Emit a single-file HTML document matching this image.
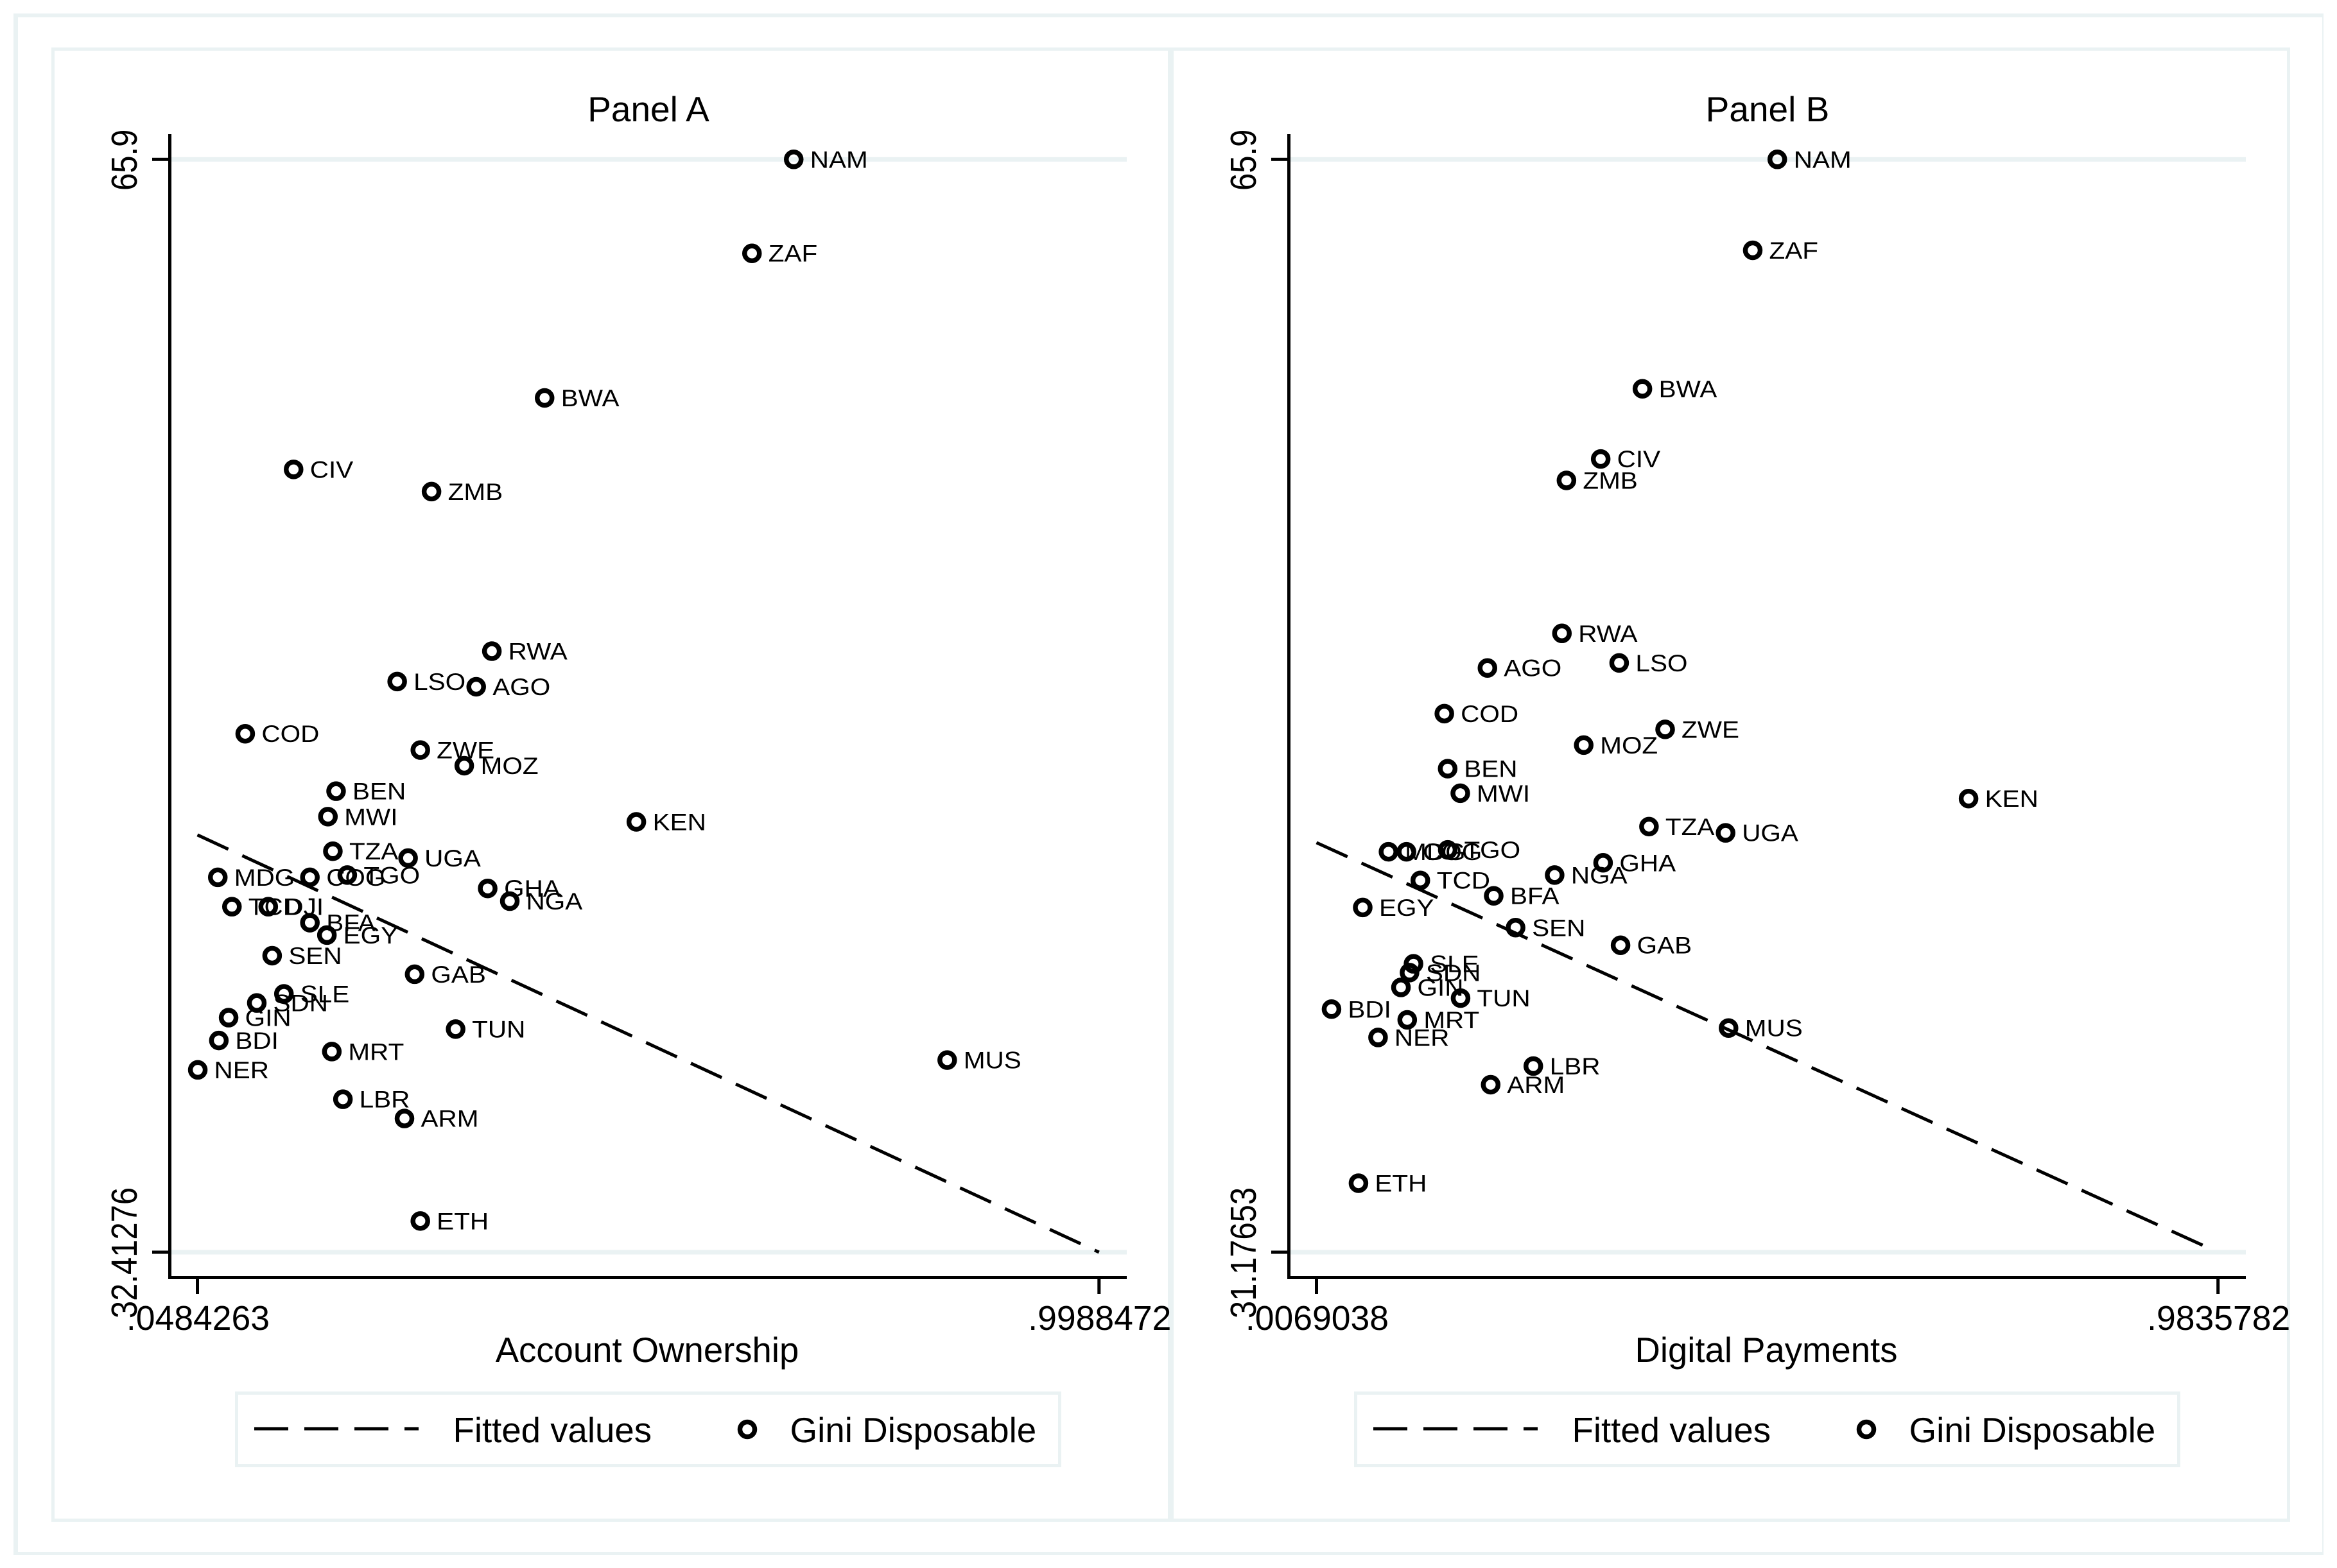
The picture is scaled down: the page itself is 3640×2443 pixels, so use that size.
<!DOCTYPE html>
<html lang="en">
<head>
<meta charset="utf-8">
<title>Gini vs Account Ownership and Digital Payments</title>
<style>
html,body{margin:0;padding:0;background:#fff;width:3640px;height:2443px;overflow:hidden}
svg{display:block}
text{font-family:"Liberation Sans",sans-serif;fill:#000}
</style>
</head>
<body>
<svg id="chart" xmlns="http://www.w3.org/2000/svg" width="3640" height="2443" viewBox="0 0 3640 2443">
  <rect x="0" y="0" width="3640" height="2443" fill="#ffffff"/>
  <g fill="#eaf2f3">
    <rect x="21" y="21" width="3598" height="6"/>
    <rect x="21" y="2418" width="3598" height="5"/>
    <rect x="21" y="21" width="7" height="2402"/>
    <rect x="3617" y="21" width="2" height="2402"/>
  </g>
  <g fill="#eaf2f3">
    <rect x="80" y="74" width="1744" height="5"/>
    <rect x="80" y="2366" width="1744" height="5"/>
    <rect x="80" y="74" width="5" height="2297"/>
    <rect x="1819" y="74" width="5" height="2297"/>
  </g>
  <g fill="#eaf2f3">
    <rect x="1823" y="74" width="1744" height="5"/>
    <rect x="1823" y="2366" width="1744" height="5"/>
    <rect x="1823" y="74" width="5" height="2297"/>
    <rect x="3562" y="74" width="5" height="2297"/>
  </g>
  <g id="panel-a"></g>
  <g id="panel-b"></g>
</svg>
<script>
var countriesA = ["NAM","ZAF","BWA","CIV","ZMB","RWA","LSO","AGO","COD","ZWE","MOZ","BEN","MWI","KEN","TZA","UGA","MDG","COG","TGO","GHA","NGA","TCD","DJI","BFA","EGY","SEN","GAB","SLE","SDN","GIN","TUN","BDI","MRT","MUS","NER","LBR","ARM","ETH"];
var accountOwnership = [0.6770,0.6330,0.4144,0.1498,0.2952,0.3588,0.2590,0.3423,0.0988,0.2834,0.3297,0.1946,0.1860,0.5111,0.1912,0.2705,0.0699,0.1670,0.2064,0.3544,0.3777,0.0848,0.1231,0.1670,0.1849,0.1272,0.2774,0.1396,0.1110,0.0813,0.3206,0.0710,0.1901,0.8388,0.0488,0.2018,0.2667,0.2834];
var giniA = [65.90,63.02,58.59,56.40,55.72,50.83,49.90,49.74,48.30,47.80,47.32,46.54,45.76,45.60,44.70,44.49,43.90,43.90,43.97,43.56,43.17,43.00,43.00,42.51,42.13,41.50,40.93,40.33,40.05,39.60,39.25,38.90,38.56,38.30,38.00,37.10,36.51,33.37];

var countriesB = ["NAM","ZAF","BWA","CIV","ZMB","RWA","LSO","AGO","COD","ZWE","MOZ","BEN","MWI","KEN","TZA","UGA","MDG","COG","TGO","GHA","NGA","TCD","BFA","EGY","SEN","GAB","SLE","SDN","GIN","TUN","BDI","MRT","MUS","NER","LBR","ARM","ETH"];
var digitalPayments = [0.5061,0.4795,0.3600,0.3148,0.2777,0.2728,0.3348,0.1921,0.1454,0.3846,0.2964,0.1490,0.1627,0.7133,0.3671,0.4501,0.0849,0.1044,0.1491,0.3174,0.2649,0.1194,0.1989,0.0570,0.2226,0.3363,0.1120,0.1077,0.0984,0.1630,0.0232,0.1052,0.4533,0.0736,0.2418,0.1956,0.0524];
var giniB = [65.90,63.01,58.61,56.38,55.70,50.84,49.90,49.74,48.29,47.79,47.29,46.54,45.76,45.59,44.70,44.50,43.90,43.90,43.96,43.55,43.16,42.99,42.50,42.13,41.49,40.93,40.34,40.06,39.59,39.25,38.90,38.56,38.30,38.00,37.09,36.50,33.37];

var xTicksA = [0.0484263,0.9988472];
var xTickLabelsA = [".0484263",".9988472"];
var yTicksA = [65.9,32.41276];
var yTickLabelsA = ["65.9","32.41276"];
var fitXA = [0.0484263,0.9988472];
var fitYA = [45.20,32.41276];

var xTicksB = [0.0069038,0.9835782];
var xTickLabelsB = [".0069038",".9835782"];
var yTicksB = [65.9,31.17653];
var yTickLabelsB = ["65.9","31.17653"];
var fitXB = [0.0069038,0.9713];
var fitYB = [44.19,31.34];

var NS = "http://www.w3.org/2000/svg";
var INK = "#000000";
var LIGHT = "#eaf2f3";

function el(parent, tag, attrs, txt) {
  var e = document.createElementNS(NS, tag);
  for (var k in attrs) { e.setAttribute(k, attrs[k]); }
  if (txt !== undefined) { e.textContent = txt; }
  parent.appendChild(e);
  return e;
}

function drawPanel(cfg) {
  var g = document.getElementById(cfg.id);
  var dx = cfg.dx;
  var xMin = cfg.xTicks[0], xMax = cfg.xTicks[1];
  var yTop = cfg.yTicks[0], yBot = cfg.yTicks[1];
  var px0 = cfg.px0, px1 = cfg.px1, py0 = 248.3, py1 = 1951;
  function xScale(v) { return px0 + (v - xMin) / (xMax - xMin) * (px1 - px0); }
  function yScale(v) { return py0 + (yTop - v) / (yTop - yBot) * (py1 - py0); }

  cfg.yTicks.forEach(function (t) {
    var grid = el(g, "rect", {x: 267 + dx, y: yScale(t) - 3.5, width: 1488, height: 7, fill: LIGHT});
    
    
  });

  var title = el(g, "text", {x: 1010 + dx, y: 189, "font-size": 55, "text-anchor": "middle"}, cfg.title);
  
  

  var fit = el(g, "line", {
    x1: xScale(cfg.fitX[0]), y1: yScale(cfg.fitY[0]),
    x2: xScale(cfg.fitX[1]), y2: yScale(cfg.fitY[1]),
    stroke: INK, "stroke-width": 5, "stroke-dasharray": "53 24"
  });
  
  

  var yAxis = el(g, "rect", {x: 262 + dx, y: 209, width: 5, height: 1784, fill: INK});
  
  
  var xAxis = el(g, "rect", {x: 262 + dx, y: 1988, width: 1493, height: 5, fill: INK});
  
  

  cfg.xTicks.forEach(function (t, i) {
    var x = xScale(t);
    var tick = el(g, "rect", {x: x - 2.5, y: 1990, width: 5, height: 26, fill: INK});
    
    
    var lab = el(g, "text", {x: x + 1, y: 2072, "font-size": 53.5, "text-anchor": "middle"}, cfg.xTickLabels[i]);
    
    
  });

  cfg.yTicks.forEach(function (t, i) {
    var y = yScale(t);
    var tick = el(g, "rect", {x: 237 + dx, y: y - 2.5, width: 27, height: 5, fill: INK});
    
    
    var lab = el(g, "text", {
      transform: "translate(" + (213 + dx) + "," + (y + 1) + ") rotate(-90) scale(1,1.16)",
      "font-size": 49, "text-anchor": "middle"
    }, cfg.yTickLabels[i]);
    
    
  });

  var xTitle = el(g, "text", {x: 1008 + dx, y: 2122, "font-size": 54.5, "text-anchor": "middle"}, cfg.xTitle);
  
  

  cfg.countries.forEach(function (c, i) {
    var cx = xScale(cfg.xs[i]);
    var cy = yScale(cfg.ys[i]);
    var pt = el(g, "circle", {cx: cx, cy: cy, r: 11.5, fill: "none", stroke: INK, "stroke-width": 7.5});
    
    
    var lab = el(g, "text", {
      transform: "translate(" + (cx + 25.5) + "," + (cy + 13) + ") scale(1.08,1)",
      "font-size": 37.5
    }, c);
    
    
  });

  var lg = el(g, "g", {});
  
  
  el(lg, "rect", {x: 368.5 + dx, y: 2170.5, width: 1282, height: 113, fill: "#fff", stroke: LIGHT, "stroke-width": 5});
  var lgLine = el(lg, "line", {x1: 396 + dx, y1: 2226, x2: 652 + dx, y2: 2226, stroke: INK, "stroke-width": 5, "stroke-dasharray": "53 25"});
  
  
  var lgT1 = el(lg, "text", {x: 705.5 + dx, y: 2247, "font-size": 54.6}, "Fitted values");
  
  
  var lgM = el(lg, "circle", {cx: 1164 + dx, cy: 2227, r: 11.5, fill: "none", stroke: INK, "stroke-width": 7.5});
  
  
  var lgT2 = el(lg, "text", {x: 1230.5 + dx, y: 2247, "font-size": 54.8}, "Gini Disposable");
  
  
}

drawPanel({id: "panel-a", dx: 0, px0: 307.5, px1: 1711.8, title: "Panel A", xTitle: "Account Ownership",
  xTicks: xTicksA, xTickLabels: xTickLabelsA, yTicks: yTicksA, yTickLabels: yTickLabelsA,
  fitX: fitXA, fitY: fitYA, countries: countriesA, xs: accountOwnership, ys: giniA});
drawPanel({id: "panel-b", dx: 1743, px0: 2050.5, px1: 3454.7, title: "Panel B", xTitle: "Digital Payments",
  xTicks: xTicksB, xTickLabels: xTickLabelsB, yTicks: yTicksB, yTickLabels: yTickLabelsB,
  fitX: fitXB, fitY: fitYB, countries: countriesB, xs: digitalPayments, ys: giniB});
</script>
</body>
</html>
